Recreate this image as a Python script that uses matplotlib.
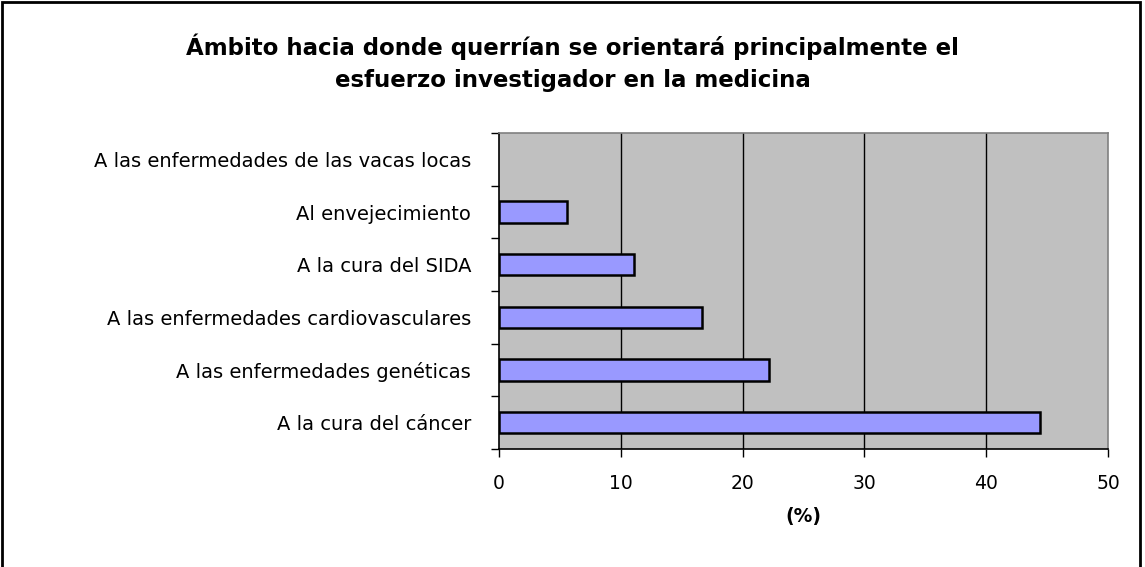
import numpy as np
import matplotlib.pyplot as plt
from matplotlib.patches import Rectangle

plt.rcParams["font.family"] = ["DejaVu Sans"]

categories = [
    "A la cura del cáncer",
    "A las enfermedades genéticas",
    "A las enfermedades cardiovasculares",
    "A la cura del SIDA",
    "Al envejecimiento",
    "A las enfermedades de las vacas locas",
]
values = [44.4, 22.2, 16.7, 11.1, 5.6, 0.0]
x_ticks = [0, 10, 20, 30, 40, 50]

title = ("Ámbito hacia donde querrían se orientará principalmente el\n"
         "esfuerzo investigador en la medicina")

fig = plt.figure(figsize=(11.45, 5.67), dpi=100)
ax = fig.add_axes([0.4358, 0.2081, 0.5319, 0.5573])
ax.set_facecolor("#c0c0c0")

y = np.arange(len(categories))
edge_w = [1.8 if v > 0 else 0 for v in values]
ax.barh(y, values, height=0.4, color="#9999ff", edgecolor="black",
        linewidth=edge_w, zorder=3)

ax.set_xlim(0, 50)
ax.set_ylim(-0.5, len(categories) - 0.5)
ax.set_xticks(x_ticks)
ax.set_xticklabels([str(t) for t in x_ticks], fontsize=13.5)
ax.set_yticks(y)
ax.set_yticklabels(categories, fontsize=14)
ax.set_yticks(np.arange(-0.5, len(categories)), minor=True)
ax.tick_params(axis="y", which="major", length=0, pad=20)
ax.tick_params(axis="y", which="minor", length=6, width=1, direction="out")
ax.tick_params(axis="x", which="major", length=6, width=1, direction="out", pad=12)

# gridlines
for gx in x_ticks[1:-1]:
    ax.axvline(gx, color="black", linewidth=1, zorder=1)

for side in ["top", "right"]:
    ax.spines[side].set_color("#808080")
    ax.spines[side].set_linewidth(1.2)
ax.spines["left"].set_color("black")
ax.spines["bottom"].set_color("black")
ax.spines["left"].set_linewidth(1.2)
ax.spines["bottom"].set_linewidth(1.2)

ax.set_xlabel("(%)", fontsize=13.5, fontweight="bold", labelpad=10)

fig.text(0.5, 0.889, title, ha="center", va="center", fontsize=16.5,
         fontweight="bold", linespacing=1.5)

fig.patches.append(Rectangle((0.002, -0.01), 0.994, 1.006, transform=fig.transFigure,
                             fill=False, edgecolor="black", linewidth=2))

fig.savefig("out.png", dpi=100)
